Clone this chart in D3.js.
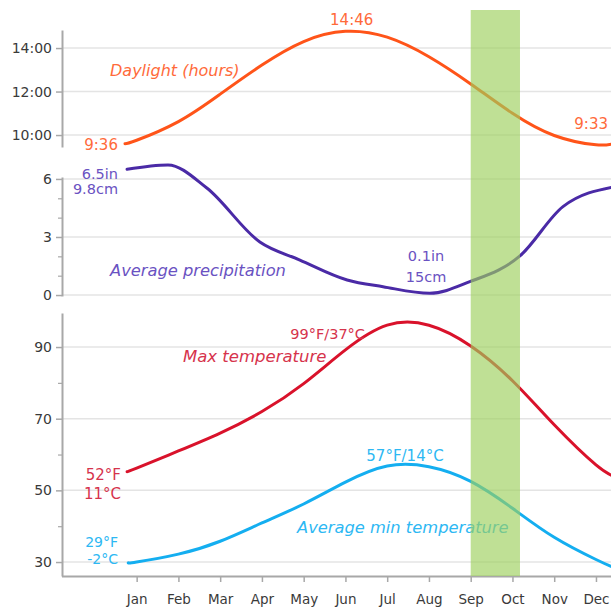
<!DOCTYPE html>
<html>
<head>
<meta charset="utf-8">
<script src="https://cdn.jsdelivr.net/npm/d3@7"></script>
<style>
  html, body { margin: 0; padding: 0; background: #fff; }
  svg { display: block; font-family: "DejaVu Sans", sans-serif; }
</style>
</head>
<body>
<svg id="chart" width="611" height="607"></svg>
<script>
// ---------- DATA (month index: 0 = Jan tick, 11 = Dec tick) ----------
const months = ["Jan","Feb","Mar","Apr","May","Jun","Jul","Aug","Sep","Oct","Nov","Dec"];

// Daylight (hours)
const daylightX = [-0.28, 0, 1, 2, 3, 4, 5, 6, 7, 8, 9, 10, 11, 11.45];
const daylight  = [9.6, 9.76, 10.62, 11.88, 13.22, 14.3, 14.77, 14.5, 13.6, 12.35, 11.0, 9.98, 9.55, 9.62];

// Average precipitation (in)
const precipX = [-0.23, 0.75, 1.68, 2.95, 3.91, 5.04, 5.9, 7.02, 7.98, 9.18, 10.21, 11.45];
const precip  = [6.5, 6.72, 5.53, 2.74, 1.81, 0.78, 0.43, 0.09, 0.69, 2.02, 4.57, 5.6];

// Max temperature (°F)
const maxTempX = [-0.23, 0, 1, 2, 3, 4, 5, 6, 7, 8, 9, 10, 11, 11.45];
const maxTemp  = [55.2, 56.2, 61.0, 66.0, 72.0, 79.8, 89.2, 96.1, 96.1, 90.3, 80.6, 68.3, 57.1, 53.8];

// Average min temperature (°F)
const minTempX = [-0.2, 0, 1, 2, 3, 4, 5, 6, 7, 8, 9, 10, 11, 11.45];
const minTemp  = [29.8, 30.0, 32.2, 35.8, 40.9, 46.2, 52.3, 56.8, 56.6, 52.5, 45.0, 36.9, 30.7, 28.3];

// Highlight band (month index)
const bandRange = [8, 9.18];

// Tick values
const daylightTicks = [10, 12, 14];
const precipTicks = [0, 3, 6];
const precipMinor = [1, 2, 4, 5];
const tempTicks = [30, 50, 70, 90];
const tempMinor = [40, 60, 80];

// ---------- STYLE ----------
const C = {
  day: "#ff5419", dayText: "#ff6a3a",
  precip: "#4a2aa6", precipText: "#6a52c2",
  max: "#d9122b", maxText: "#d6334c",
  min: "#14aef0", minText: "#2db8f3",
  axis: "#a8a8a8", grid: "#e4e4e4", tick: "#3a3a3a"
};

const svg = d3.select("#chart");
const W = 611;

// ---------- SCALES ----------
const x = d3.scaleLinear().domain([-1.8, 11.36]).range([61.5, 611]);
const yD = d3.scaleLinear().domain([9.45, 14.83]).range([147, 30]);
const yP = d3.scaleLinear().domain([-0.05, 6.1]).range([296, 177]);
const yT = d3.scaleLinear().domain([26.1, 99.5]).range([576, 313]);
const axisX = 62;

svg.append("defs").append("clipPath").attr("id", "clip")
  .append("rect").attr("x", axisX).attr("y", 0).attr("width", W - axisX).attr("height", 607);

// ---------- GRID ----------
function grid(scale, vals) {
  svg.append("g").selectAll("line").data(vals).join("line")
    .attr("x1", axisX).attr("x2", W)
    .attr("y1", d => scale(d)).attr("y2", d => scale(d))
    .attr("stroke", C.grid).attr("stroke-width", 1.5);
}
grid(yD, daylightTicks);
grid(yP, precipTicks);
grid(yT, tempTicks);

// ---------- AXES ----------
function yAxis(scale, ticks, fmt, minor) {
  const g = svg.append("g").attr("transform", `translate(${axisX},0)`)
    .call(d3.axisLeft(scale).tickValues(ticks).tickFormat(fmt).tickSize(6).tickPadding(4).tickSizeOuter(0));
  g.select(".domain").attr("stroke", C.axis).attr("stroke-width", 2);
  g.selectAll(".tick line").attr("stroke", C.axis).attr("stroke-width", 1.5);
  g.selectAll(".tick text").attr("fill", C.tick).style("font-size", "14px")
    .style("font-family", "DejaVu Sans, sans-serif");
  if (minor) {
    const m = svg.append("g").attr("transform", `translate(${axisX},0)`)
      .call(d3.axisLeft(scale).tickValues(minor).tickFormat("").tickSize(4).tickSizeOuter(0));
    m.select(".domain").remove();
    m.selectAll(".tick line").attr("stroke", C.axis).attr("stroke-width", 1.2);
  }
}
yAxis(yD, daylightTicks, d => d + ":00");
yAxis(yP, precipTicks, d => d, precipMinor);
yAxis(yT, tempTicks, d => d, tempMinor);

const xa = svg.append("g").attr("transform", `translate(0,576)`)
  .call(d3.axisBottom(x).tickValues(d3.range(12)).tickFormat(i => months[i]).tickSize(6).tickPadding(12).tickSizeOuter(0));
xa.select(".domain").attr("stroke", C.axis).attr("stroke-width", 2);
xa.selectAll(".tick line").attr("stroke", C.axis).attr("stroke-width", 1.5);
xa.selectAll(".tick text").attr("fill", C.tick).style("font-size", "13.5px")
  .style("font-family", "DejaVu Sans, sans-serif");

// ---------- LINES ----------
function series(xs, vs, yScale, color, curve) {
  const pts = xs.map((d, i) => [d, vs[i]]);
  svg.append("path").datum(pts)
    .attr("clip-path", "url(#clip)")
    .attr("fill", "none").attr("stroke", color).attr("stroke-width", 3)
    .attr("stroke-linecap", "round").attr("stroke-linejoin", "round")
    .attr("d", d3.line().x(d => x(d[0])).y(d => yScale(d[1])).curve(curve));
}
series(daylightX, daylight, yD, C.day, d3.curveNatural);
series(precipX, precip, yP, C.precip, d3.curveMonotoneX);
series(maxTempX, maxTemp, yT, C.max, d3.curveNatural);
series(minTempX, minTemp, yT, C.min, d3.curveNatural);

// ---------- LABELS ----------
function label(txt, px, py, color, anchor, opts = {}) {
  svg.append("text").attr("x", px).attr("y", py)
    .attr("text-anchor", anchor).attr("fill", color)
    .style("font-size", (opts.size || 15) + "px")
    .style("font-style", opts.italic ? "italic" : "normal")
    .text(txt);
}
// daylight
label("9:36", x(daylightX[0]) - 7, 150, C.dayText, "end");
label("14:46", x(5.15), 25, C.dayText, "middle");
label("9:33", 608, 129, C.dayText, "end");
label("Daylight (hours)", 110, 76, C.dayText, "start", { italic: true, size: 16 });
// precip
label("6.5in", x(precipX[0]) - 9, 179, C.precipText, "end", { size: 14.5 });
label("9.8cm", x(precipX[0]) - 9, 194, C.precipText, "end", { size: 14.5 });
label("0.1in", 426, 261, C.precipText, "middle", { size: 14.5 });
label("15cm", 426, 282, C.precipText, "middle", { size: 14.5 });
label("Average precipitation", 110, 276, C.precipText, "start", { italic: true, size: 16.3 });
// max temp
label("99°F/37°C", 365, 339, C.maxText, "end", { size: 14.5 });
label("Max temperature", 183, 362, C.maxText, "start", { italic: true, size: 16.5 });
label("52°F", 121, 480, C.maxText, "end", { size: 15 });
label("11°C", 121, 499, C.maxText, "end", { size: 15 });
// min temp
label("29°F", 118, 547, C.minText, "end", { size: 14 });
label("-2°C", 118, 564, C.minText, "end", { size: 14 });
label("57°F/14°C", 405, 461, C.minText, "middle", { size: 15 });
label("Average min temperature", 297, 533, C.minText, "start", { italic: true, size: 16.3 });

// ---------- HIGHLIGHT BAND ----------
svg.append("rect")
  .attr("x", x(bandRange[0])).attr("width", x(bandRange[1]) - x(bandRange[0]))
  .attr("y", 10).attr("height", 576 - 10)
  .attr("fill", "#9ccf5c").attr("fill-opacity", 0.65);
</script>
</body>
</html>
